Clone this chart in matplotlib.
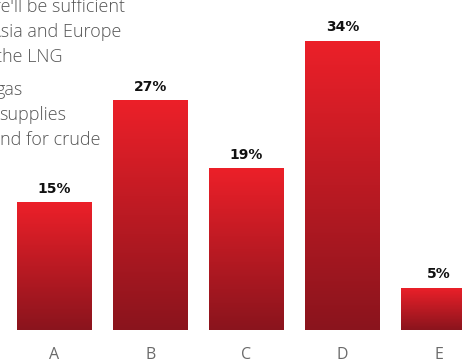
import numpy as np
import matplotlib.pyplot as plt
from matplotlib.colors import LinearSegmentedColormap

# chart data
categories = ["A", "B", "C", "D", "E"]
shares = [15, 27, 19, 34, 5]
value_labels = [f"{v}%" for v in shares]

# intro text that runs off the left edge of the crop
intro_lines = [
    "There'll be sufficient",
    "Asia and Europe",
    "the LNG",
    "gas",
    "supplies",
    "demand for crude",
]
# right edge (px) and baseline (px from top) of each line
intro_right = [125, 121, 63, 23, 66, 101]
intro_base = [12, 37, 62, 95, 120, 145]

W, H = 462, 363
fig = plt.figure(figsize=(W / 100, H / 100), dpi=100)

plt.rcParams["font.family"] = ["Open Sans", "DejaVu Sans"]

ax = fig.add_axes([0, 33 / H, 1, 330 / H])
x = np.arange(len(categories))
bars = ax.bar(x, shares, width=0.78, color="none", edgecolor="none")

cmap = LinearSegmentedColormap.from_list("reds", ["#8a141d", "#ec2029"])
grad = np.linspace(0, 1, 256).reshape(-1, 1)
for rect, lab in zip(bars, value_labels):
    x0, y0 = rect.get_x(), rect.get_y()
    w, h = rect.get_width(), rect.get_height()
    im = ax.imshow(grad, extent=[x0, x0 + w, y0, y0 + h], origin="lower",
                   cmap=cmap, aspect="auto", interpolation="bicubic")
    im.set_clip_path(rect)
    ax.annotate(lab, (x0 + w / 2, y0 + h), xytext=(0, 5),
                textcoords="offset points", ha="center", va="bottom",
                fontsize=10, fontweight="bold", family="DejaVu Sans",
                color="#111111")

ax.set_xlim(-54.5 / 96, (W - 54.5) / 96)
ax.set_ylim(0, 330 / 8.5)
ax.set_xticks(x)
ax.set_xticklabels(categories, fontsize=11.5, color="#6a6a6a")
ax.tick_params(axis="x", length=0, pad=12.5)
ax.set_yticks([])
for s in ax.spines.values():
    s.set_visible(False)

for line, xr, yb in zip(intro_lines, intro_right, intro_base):
    fig.text(xr / W, 1 - yb / H, line, ha="right", va="baseline",
             fontsize=13, fontweight="light", color="#555555")

fig.savefig("out.png", dpi=100)
